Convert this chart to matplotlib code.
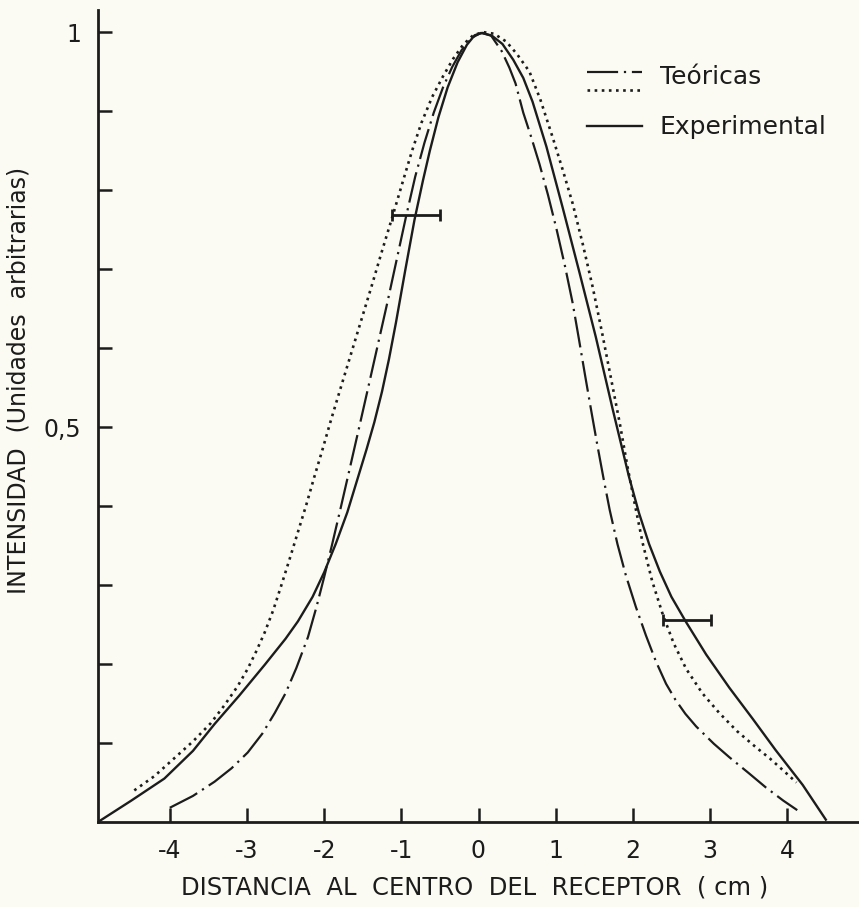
import matplotlib
matplotlib.use("Agg")
import matplotlib.pyplot as plt
from matplotlib.lines import Line2D

# ---- data ----
# Experimental (solid)
exp_x = [-4.93, -4.50, -4.07, -3.70, -3.42, -3.10, -2.77, -2.50, -2.34, -2.15,
         -2.00, -1.85, -1.70, -1.55, -1.45, -1.35, -1.25, -1.16, -1.07, -0.95,
         -0.83, -0.72, -0.63, -0.52, -0.40, -0.27, -0.15, -0.05, 0.05, 0.18,
         0.31, 0.45, 0.58, 0.70, 0.88, 1.09, 1.31, 1.52, 1.74, 1.95,
         2.08, 2.21, 2.35, 2.50, 2.69, 2.95, 3.25, 3.55, 3.85, 4.20, 4.50]
exp_y = [0.000, 0.027, 0.055, 0.090, 0.124, 0.160, 0.199, 0.232, 0.254, 0.285,
         0.316, 0.352, 0.392, 0.440, 0.472, 0.506, 0.545, 0.586, 0.632, 0.698,
         0.762, 0.812, 0.850, 0.892, 0.930, 0.962, 0.984, 0.996, 0.999, 0.995,
         0.985, 0.965, 0.942, 0.912, 0.855, 0.778, 0.695, 0.614, 0.522, 0.437,
         0.391, 0.352, 0.317, 0.285, 0.253, 0.212, 0.170, 0.131, 0.091, 0.047, 0.003]

# Teóricas 1 (dash-dot)
teo1_x = [-4.00, -3.70, -3.42, -3.20, -2.99, -2.80, -2.64, -2.50, -2.36, -2.21,
          -2.10, -2.00, -1.90, -1.78, -1.66, -1.55, -1.42, -1.30, -1.18, -1.06,
          -0.94, -0.82, -0.70, -0.58, -0.46, -0.34, -0.22, -0.10, 0.03, 0.16,
          0.30, 0.40, 0.48, 0.58, 0.68, 0.79, 0.90, 1.01, 1.12, 1.22,
          1.30, 1.38, 1.46, 1.54, 1.62, 1.70, 1.80, 1.91, 2.04, 2.17,
          2.30, 2.43, 2.55, 2.68, 2.82, 3.05, 3.25, 3.50, 3.72, 3.95, 4.13]
teo1_y = [0.018, 0.033, 0.051, 0.068, 0.088, 0.112, 0.138, 0.163, 0.195, 0.234,
          0.272, 0.310, 0.350, 0.400, 0.451, 0.498, 0.554, 0.606, 0.658, 0.712,
          0.766, 0.817, 0.860, 0.898, 0.930, 0.956, 0.977, 0.992, 0.999, 0.996,
          0.976, 0.955, 0.935, 0.898, 0.868, 0.833, 0.794, 0.751, 0.704, 0.657,
          0.612, 0.566, 0.521, 0.477, 0.435, 0.395, 0.352, 0.312, 0.272, 0.236,
          0.203, 0.175, 0.155, 0.137, 0.121, 0.099, 0.082, 0.062, 0.044, 0.027, 0.015]

# Teóricas 2 (dotted)
teo2_x = [-4.46, -4.20, -3.95, -3.70, -3.47, -3.29, -3.12, -2.99, -2.88, -2.77,
          -2.66, -2.56, -2.45, -2.34, -2.23, -2.13, -2.02, -1.92, -1.80, -1.66,
          -1.52, -1.38, -1.25, -1.11, -0.98, -0.86, -0.74, -0.60, -0.46, -0.33,
          -0.20, -0.07, 0.06, 0.20, 0.36, 0.50, 0.66, 0.80, 0.96, 1.09,
          1.22, 1.35, 1.48, 1.60, 1.72, 1.83, 1.93, 2.03, 2.13, 2.25,
          2.39, 2.53, 2.69, 2.90, 3.12, 3.35, 3.59, 3.78, 3.94, 4.12]
teo2_y = [0.040, 0.058, 0.080, 0.102, 0.125, 0.148, 0.172, 0.194, 0.216, 0.240,
          0.268, 0.298, 0.332, 0.367, 0.402, 0.436, 0.472, 0.506, 0.545, 0.590,
          0.635, 0.680, 0.723, 0.768, 0.811, 0.850, 0.885, 0.918, 0.944, 0.966,
          0.984, 0.996, 1.000, 0.998, 0.988, 0.972, 0.950, 0.915, 0.867, 0.826,
          0.783, 0.732, 0.677, 0.620, 0.560, 0.505, 0.450, 0.400, 0.352, 0.305,
          0.262, 0.226, 0.194, 0.163, 0.138, 0.115, 0.095, 0.080, 0.066, 0.050]

err_x = [-0.81, 2.70]
err_y = [0.768, 0.256]
err_dx = [0.315, 0.315]

xticks = [-4, -3, -2, -1, 0, 1, 2, 3, 4]
xtick_labels = ["-4", "-3", "-2", "-1", "0", "1", "2", "3", "4"]
yticks = [0.1, 0.2, 0.3, 0.4, 0.5, 0.6, 0.7, 0.8, 0.9, 1.0]
ytick_labels = ["", "", "", "", "0,5", "", "", "", "", "1"]

legend_labels = ["Teóricas", "Experimental"]
xlabel = "DISTANCIA  AL  CENTRO  DEL  RECEPTOR  ( cm )"
ylabel = "INTENSIDAD  (Unidades  arbitrarias)"

# ---- style ----
ink = "#1c1c1c"
bg = "#fcfbf3"
plt.rcParams["font.family"] = ["DejaVu Sans"]

W, H = 859, 907
fig = plt.figure(figsize=(W / 100, H / 100), dpi=100, facecolor=bg)
ax = fig.add_axes([98 / W, 85 / H, 761 / W, 812 / H])
ax.set_facecolor(bg)

dashdot = (0, (14, 2.6, 1.0, 2.6))
dotted = (0, (1.0, 1.7))

ax.plot(exp_x, exp_y, color=ink, lw=1.7, solid_joinstyle="round")
ax.plot(teo1_x, teo1_y, color=ink, lw=1.6, linestyle=dashdot)
ax.plot(teo2_x, teo2_y, color=ink, lw=1.9, linestyle=dotted)

ax.errorbar(err_x, err_y, xerr=err_dx, fmt="none", ecolor=ink,
            elinewidth=2.0, capsize=4, capthick=2.0)

ax.set_xlim(-4.93, 4.93)
ax.set_ylim(0, 1.028)

for s in ["top", "right"]:
    ax.spines[s].set_visible(False)
for s in ["left", "bottom"]:
    ax.spines[s].set_linewidth(2.0)
    ax.spines[s].set_color(ink)

ax.set_xticks(xticks)
ax.set_xticklabels(xtick_labels)
ax.set_yticks(yticks)
ax.set_yticklabels(ytick_labels)
ax.tick_params(axis="both", direction="in", length=10, width=1.8,
               color=ink, labelcolor=ink, labelsize=17)
ax.tick_params(axis="x", pad=12)
ax.tick_params(axis="y", pad=12)

# axis titles placed as figure text
fig.text(475 / W, 1 - 887 / H, xlabel, fontsize=17.5, color=ink,
         ha="center", va="center")
fig.text(19 / W, 1 - 380 / H, ylabel, fontsize=17, color=ink,
         ha="center", va="center", rotation=90)

# legend drawn in axes fraction
lx0, lx1 = 0.6426, 0.715
ax.add_line(Line2D([lx0, lx1], [0.9236, 0.9236], transform=ax.transAxes,
                   color=ink, lw=1.6, linestyle=dashdot))
ax.add_line(Line2D([lx0, lx1], [0.9015, 0.9015], transform=ax.transAxes,
                   color=ink, lw=1.9, linestyle=dotted))
ax.add_line(Line2D([lx0, lx1], [0.857, 0.857], transform=ax.transAxes,
                   color=ink, lw=1.7))
ax.text(0.738, 0.9175, legend_labels[0], transform=ax.transAxes,
        fontsize=18, color=ink, va="center", ha="left")
ax.text(0.738, 0.856, legend_labels[1], transform=ax.transAxes,
        fontsize=18, color=ink, va="center", ha="left")

fig.savefig("out.png", dpi=100, facecolor=bg)
